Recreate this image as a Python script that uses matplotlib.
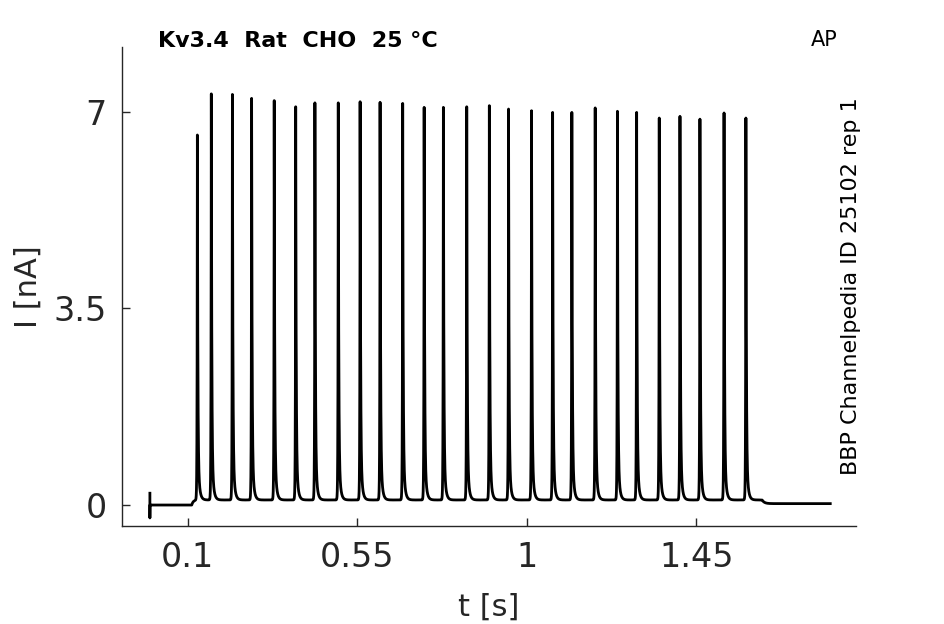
import matplotlib
matplotlib.use("Agg")
import matplotlib.pyplot as plt
import numpy as np

# spike times (s) and peak currents (nA)
spike_t = [0.126, 0.163, 0.219, 0.270, 0.330, 0.387, 0.438, 0.500, 0.558, 0.611,
           0.671, 0.728, 0.779, 0.841, 0.901, 0.952, 1.013, 1.069, 1.120, 1.182,
           1.241, 1.292, 1.352, 1.407, 1.460, 1.524, 1.582]
spike_peak = [6.59, 7.32, 7.31, 7.24, 7.20, 7.09, 7.16, 7.16, 7.18, 7.17,
              7.15, 7.08, 7.08, 7.09, 7.11, 7.05, 7.02, 6.99, 6.99, 7.07,
              7.01, 6.99, 6.89, 6.92, 6.87, 6.98, 6.89]

stim_on = 0.111      # start of depolarising ramp
stim_off = 1.625     # end of stimulus
t_end = 1.806
hold_level = 0.09    # current between spikes
tail_level = 0.025   # current after stimulus

title = "Kv3.4  Rat  CHO  25 °C"
protocol = "AP"
source = "BBP Channelpedia ID 25102 rep 1"
xticks = [0.1, 0.55, 1, 1.45]
xtick_labels = ["0.1", "0.55", "1", "1.45"]
yticks = [0, 3.5, 7]
ytick_labels = ["0", "3.5", "7"]

# build the recorded trace
t = np.arange(0, t_end, 1e-4)
i = np.zeros_like(t)
on = (t >= stim_on) & (t < stim_off)
i[on] = hold_level * (1 - np.exp(-(t[on] - stim_on) / 0.004))
off = t >= stim_off
i[off] = tail_level + (hold_level - tail_level) * np.exp(-(t[off] - stim_off) / 0.006)
for ts, pk in zip(spike_t, spike_peak):
    dt = t - ts
    k = np.where(dt < 0, np.exp(dt / 0.0007),
                 0.85 * np.exp(-dt / 0.0012) + 0.15 * np.exp(-dt / 0.004))
    i += (pk - hold_level) * k
# capacitive artefact at t = 0
t = np.concatenate([[0, 0, 0], t])
i = np.concatenate([[0.21, -0.23, 0], i])

fig = plt.figure(figsize=(9.45, 6.24), dpi=100)
ax = fig.add_axes([0.129, 0.157, 0.777, 0.768])
ax.plot(t, i, color="black", lw=2.0)

ax.set_xlim(-0.0743, 1.8747)
ax.set_ylim(-0.374, 8.158)
ax.set_xticks(xticks)
ax.set_xticklabels(xtick_labels)
ax.set_yticks(yticks)
ax.set_yticklabels(ytick_labels)

for s in ["top", "right"]:
    ax.spines[s].set_visible(False)
for s in ["left", "bottom"]:
    ax.spines[s].set_color("#262626")
    ax.spines[s].set_linewidth(1.0)
ax.tick_params(direction="in", length=6, width=1, colors="#262626",
               labelsize=24, pad=11)

ax.set_xlabel("t [s]", fontsize=22, color="#262626", labelpad=13)
ax.set_ylabel("I [nA]", fontsize=22, color="#262626", labelpad=8)

fig.text(158 / 945, 1 - 47 / 624, title, fontsize=16, fontweight="bold",
         ha="left", va="baseline")
fig.text(838 / 945, 1 - 46 / 624, protocol, fontsize=15, ha="right", va="baseline")
fig.text(851 / 945, 1 - 286 / 624, source, fontsize=16, rotation=90,
         ha="center", va="center")

fig.savefig("out.png", dpi=100)
